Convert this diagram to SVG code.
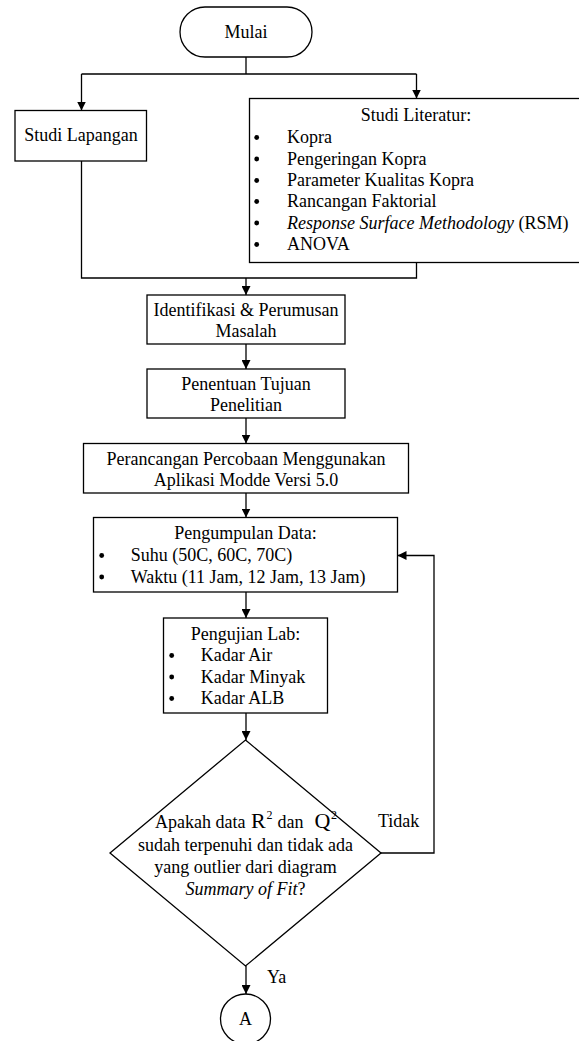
<svg xmlns="http://www.w3.org/2000/svg" width="579" height="1041" viewBox="0 0 579 1041">
<style>
.b{fill:#fff;stroke:#000;stroke-width:1.3}
.t{font-family:"Liberation Serif","Times New Roman",serif;font-size:18px;fill:#000}
.c{text-anchor:middle}
.i{font-style:italic}
.d{fill:#000}
.l{fill:none;stroke:#000;stroke-width:1.3}
</style>
<defs>
<marker id="ah" markerUnits="userSpaceOnUse" markerWidth="9" markerHeight="9" refX="9" refY="4.5" orient="auto">
<path d="M0,0 L9,4.5 L0,9 z" fill="#000"/>
</marker>
</defs>
<rect width="579" height="1041" fill="#fff"/>
<g id="connectors">
<path class="l" d="M246,57 V74 M81.5,74 H416.5"/>
<path class="l" d="M81.5,74 V110.5" marker-end="url(#ah)"/>
<path class="l" d="M416.5,74 V98.5" marker-end="url(#ah)"/>
<path class="l" d="M81.5,161 V278 H416.5 V262.5"/>
<path class="l" d="M246,278 V295" marker-end="url(#ah)"/>
<path class="l" d="M246,344 V369" marker-end="url(#ah)"/>
<path class="l" d="M246,418 V443.5" marker-end="url(#ah)"/>
<path class="l" d="M246,493 V517.5" marker-end="url(#ah)"/>
<path class="l" d="M246,592 V618" marker-end="url(#ah)"/>
<path class="l" d="M246,713 V740" marker-end="url(#ah)"/>
<path class="l" d="M381,853 H434 V555.5 H397.5" marker-end="url(#ah)"/>
<path class="l" d="M246,966 V994" marker-end="url(#ah)"/>
<text class="t" x="378" y="827">Tidak</text>
<text class="t" x="267" y="982.5">Ya</text>
</g>
<g id="mulai">
<rect class="b" x="180" y="7" width="132" height="50" rx="25" ry="25"/>
<text class="t c" x="246" y="37.5">Mulai</text>
</g>
<g id="studi-lapangan">
<rect class="b" x="15" y="110.5" width="131.5" height="50.5"/>
<text class="t c" x="81" y="141">Studi Lapangan</text>
</g>
<g id="studi-literatur">
<rect class="b" x="249.5" y="98.5" width="340" height="164"/>
<text class="t c" x="416" y="121">Studi Literatur:</text>
<circle class="d" cx="256.7" cy="137.5" r="2.4"/><text class="t" x="287" y="143">Kopra</text>
<circle class="d" cx="256.7" cy="159" r="2.4"/><text class="t" x="287" y="164.5">Pengeringan Kopra</text>
<circle class="d" cx="256.7" cy="180.5" r="2.4"/><text class="t" x="287" y="186">Parameter Kualitas Kopra</text>
<circle class="d" cx="256.7" cy="201.5" r="2.4"/><text class="t" x="287" y="207">Rancangan Faktorial</text>
<circle class="d" cx="256.7" cy="223" r="2.4"/><text class="t" x="287" y="228.5"><tspan class="i">Response Surface Methodology</tspan> (RSM)</text>
<circle class="d" cx="256.7" cy="244.5" r="2.4"/><text class="t" x="287" y="250">ANOVA</text>
</g>
<g id="identifikasi">
<rect class="b" x="147" y="295" width="198" height="49"/>
<text class="t c" x="246" y="316">Identifikasi &amp; Perumusan</text>
<text class="t c" x="246" y="337">Masalah</text>
</g>
<g id="penentuan">
<rect class="b" x="147" y="369" width="198" height="49"/>
<text class="t c" x="246" y="390">Penentuan Tujuan</text>
<text class="t c" x="246" y="411">Penelitian</text>
</g>
<g id="perancangan">
<rect class="b" x="83.5" y="443.5" width="325" height="49.5"/>
<text class="t c" x="246" y="464.5">Perancangan Percobaan Menggunakan</text>
<text class="t c" x="246" y="485.5">Aplikasi Modde Versi 5.0</text>
</g>
<g id="pengumpulan">
<rect class="b" x="93.5" y="517.5" width="304" height="74.5"/>
<text class="t c" x="245.5" y="539">Pengumpulan Data:</text>
<circle class="d" cx="101.7" cy="555.5" r="2.4"/><text class="t" x="130.7" y="561">Suhu (50C, 60C, 70C)</text>
<circle class="d" cx="101.7" cy="577" r="2.4"/><text class="t" x="130.7" y="582.5">Waktu (11 Jam, 12 Jam, 13 Jam)</text>
</g>
<g id="pengujian">
<rect class="b" x="163.5" y="618" width="164" height="95"/>
<text class="t c" x="245.5" y="639.5">Pengujian Lab:</text>
<circle class="d" cx="171.7" cy="655.5" r="2.4"/><text class="t" x="200.7" y="661">Kadar Air</text>
<circle class="d" cx="171.7" cy="677" r="2.4"/><text class="t" x="200.7" y="682.5">Kadar Minyak</text>
<circle class="d" cx="171.7" cy="698.5" r="2.4"/><text class="t" x="200.7" y="704">Kadar ALB</text>
</g>
<g id="keputusan">
<polygon class="b" points="245.5,740 381,853 245.5,966 110,853"/>
<text class="t" y="828"><tspan x="155">Apakah data</tspan><tspan x="251" font-size="22">R</tspan><tspan x="266.5" y="819" font-size="12">2</tspan><tspan x="277.5" y="828">dan</tspan><tspan x="314.5" font-size="22">Q</tspan><tspan x="331" y="819" font-size="12">2</tspan></text>
<text class="t c" x="245.5" y="850.7">sudah terpenuhi dan tidak ada</text>
<text class="t c" x="245.5" y="872.7">yang outlier dari diagram</text>
<text class="t c" x="245.5" y="895"><tspan class="i">Summary of Fit</tspan>?</text>
</g>
<g id="konektor-a">
<circle class="b" cx="245.5" cy="1019" r="25"/>
<text class="t c" x="245.5" y="1025">A</text>
</g>
</svg>
